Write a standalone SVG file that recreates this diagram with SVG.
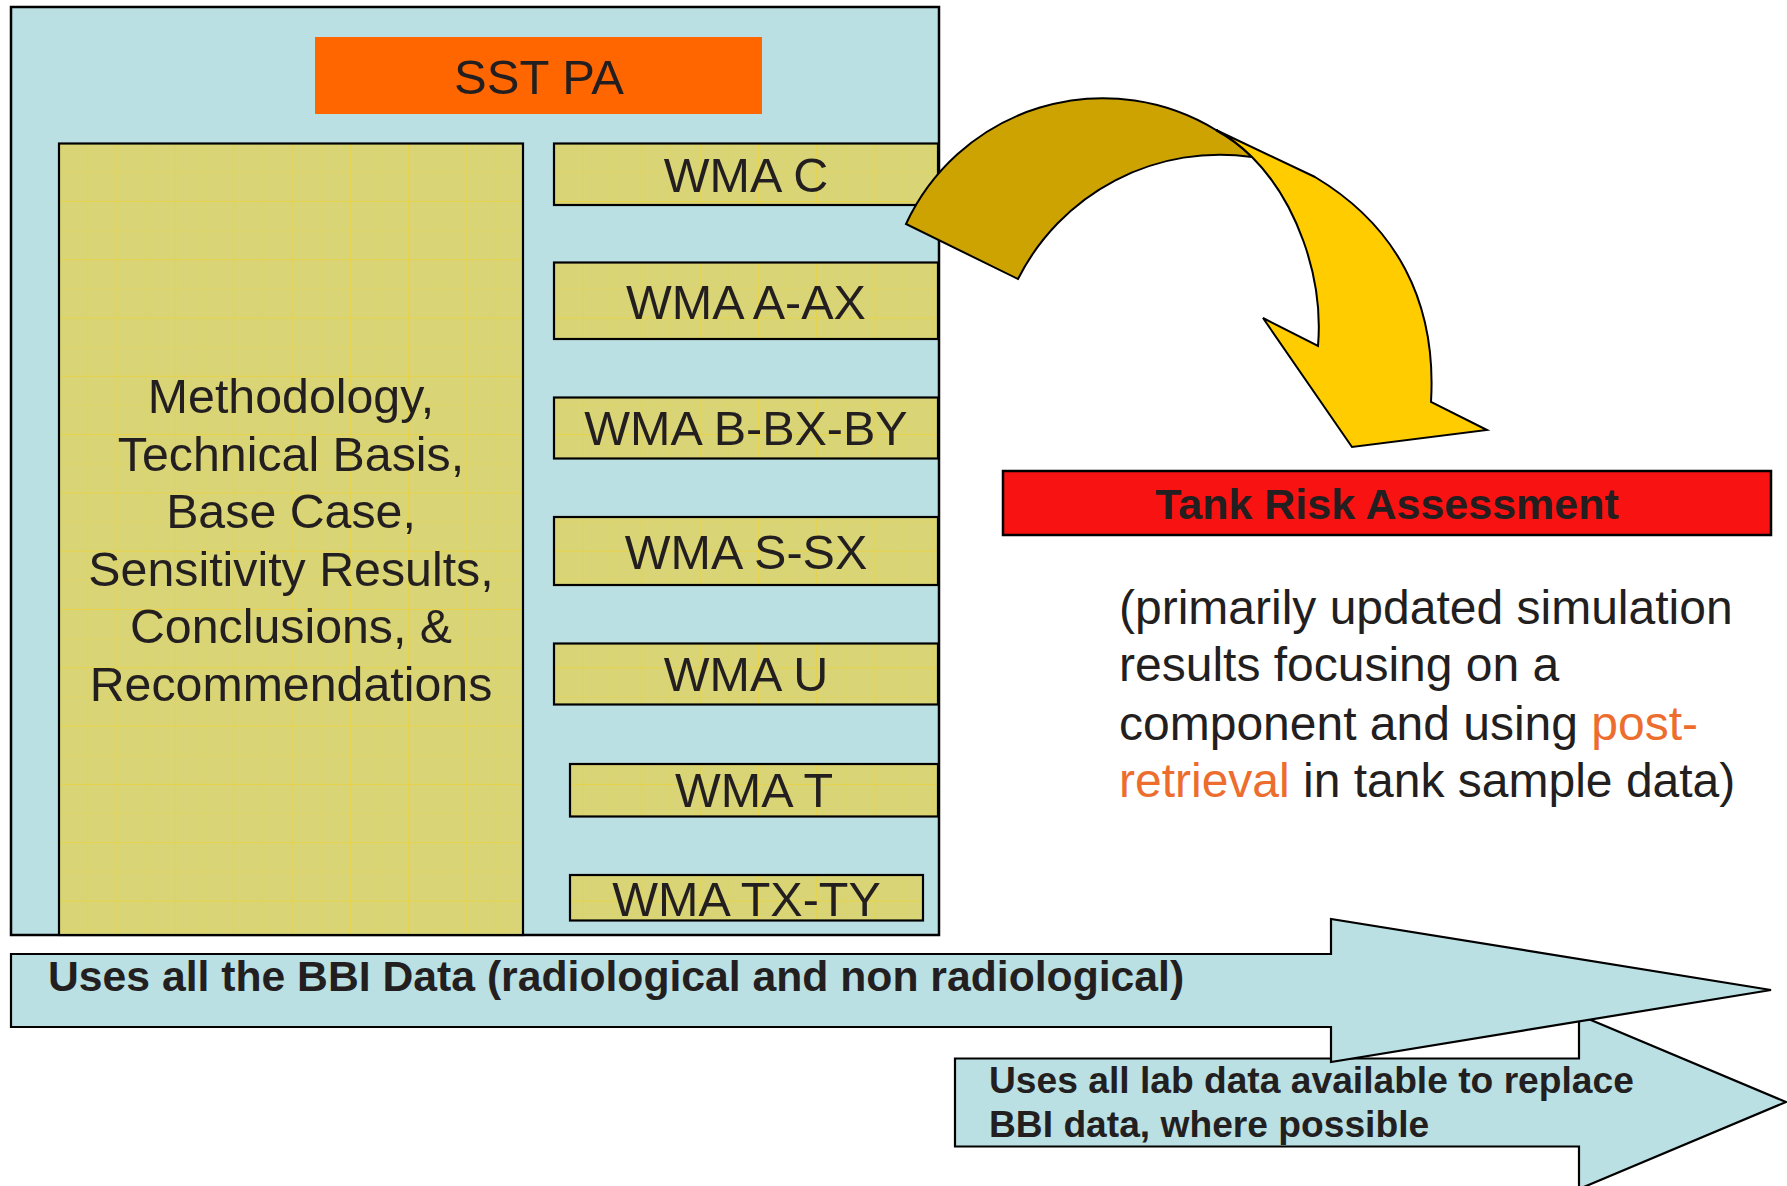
<svg xmlns="http://www.w3.org/2000/svg" width="1787" height="1186" viewBox="0 0 1787 1186">
<defs>
<pattern id="grid" patternUnits="userSpaceOnUse" x="0" y="26" width="58.3" height="58.3">
<rect width="58.3" height="58.3" fill="#D9D576"/>
<path d="M0.5,0 V58.3 M0,0.5 H58.3" stroke="#EDD236" stroke-width="1.2" opacity="0.7" fill="none"/>
<path d="M29.6,0 V58.3 M0,29.6 H58.3" stroke="#E6D44E" stroke-width="1" opacity="0.35" fill="none"/>
</pattern>
<style>
.blue{fill:#BBE0E3;stroke:#000;stroke-width:2.5}
.ybox{fill:url(#grid);stroke:#000;stroke-width:2.2}
.t{font-family:"Liberation Sans",Arial,sans-serif;fill:#231F20}
.wma{font-size:48.5px;text-anchor:middle}
.meth{font-size:48.3px;text-anchor:middle}
.para{font-size:48px}
.org{fill:#EC6D2D}
.b{font-weight:bold}
.arw{fill:#BBE0E3;stroke:#000;stroke-width:2.2;stroke-linejoin:miter}
</style>
</defs>
<rect width="1787" height="1186" fill="#fff"/>

<g id="sst-pa-container">
<rect class="blue" x="11" y="7" width="928" height="928"/>
</g>

<g id="sst-pa-title">
<rect x="315" y="37" width="447" height="77" fill="#FF6600"/>
<text class="t" x="539" y="94" font-size="49" text-anchor="middle">SST PA</text>
</g>

<g id="methodology">
<rect class="ybox" x="59" y="143.5" width="464" height="791.5"/>
<text class="t meth" x="291" y="413">Methodology,</text>
<text class="t meth" x="291" y="470.5">Technical Basis,</text>
<text class="t meth" x="291" y="528">Base Case,</text>
<text class="t meth" x="291" y="585.5">Sensitivity Results,</text>
<text class="t meth" x="291" y="643">Conclusions, &amp;</text>
<text class="t meth" x="291" y="700.5">Recommendations</text>
</g>

<g id="wma-c">
<rect class="ybox" x="554" y="143.5" width="384" height="61.5"/>
<text class="t wma" x="746" y="192">WMA C</text>
</g>
<g id="wma-a-ax">
<rect class="ybox" x="554" y="262.5" width="384" height="76.5"/>
<text class="t wma" x="746" y="318.5">WMA A-AX</text>
</g>
<g id="wma-b-bx-by">
<rect class="ybox" x="554" y="397.5" width="384" height="61"/>
<text class="t wma" x="746" y="445">WMA B-BX-BY</text>
</g>
<g id="wma-s-sx">
<rect class="ybox" x="554" y="517" width="384" height="68"/>
<text class="t wma" x="746" y="568.5">WMA S-SX</text>
</g>
<g id="wma-u">
<rect class="ybox" x="554" y="643.5" width="384" height="61"/>
<text class="t wma" x="746" y="691">WMA U</text>
</g>
<g id="wma-t">
<rect class="ybox" x="570" y="764" width="368" height="52.5"/>
<text class="t wma" x="754" y="806.5">WMA T</text>
</g>
<g id="wma-tx-ty">
<rect class="ybox" x="570" y="875" width="353" height="45.5"/>
<text class="t wma" x="746.5" y="915.5">WMA TX-TY</text>
</g>

<g id="tank-risk-assessment">
<rect x="1003" y="471" width="768" height="64" fill="#F81212" stroke="#000" stroke-width="2.5"/>
<text class="t b" x="1387" y="519" font-size="43" text-anchor="middle">Tank Risk Assessment</text>
</g>

<g id="description">
<text class="t para" x="1119" y="624">(primarily updated simulation</text>
<text class="t para" x="1119" y="681">results focusing on a</text>
<text class="t para" x="1119" y="739.5">component and using <tspan class="org">post-</tspan></text>
<text class="t para" x="1119" y="797"><tspan class="org">retrieval</tspan> in tank sample data)</text>
</g>

<g id="connectors">
<path d="M906,224 A217,217 0 0 1 1216,130 Q1236,141 1252,157 A226,226 0 0 0 1018,279 Z" fill="#CCA300" stroke="#000" stroke-width="2" stroke-linejoin="miter"/>
<path d="M1216,130 L1315,177 C1395,225 1437,300 1431,402 L1487,430 L1352,447 L1263,318 L1318,346 C1324,275 1295,200 1252,157 Q1236,141 1216,130 Z" fill="#FFCC00" stroke="#000" stroke-width="2" stroke-linejoin="miter"/>
</g>

<g id="lab-data-arrow">
<polygon class="arw" points="955,1058.5 1579,1058.5 1579,1015 1786,1102 1579,1189 1579,1146.5 955,1146.5"/>
<text class="t b" x="989" y="1093" font-size="37.2">Uses all lab data available to replace</text>
<text class="t b" x="989" y="1137" font-size="37.2">BBI data, where possible</text>
</g>

<g id="bbi-data-arrow">
<polygon class="arw" points="11,954 1331,954 1331,919 1771,990 1331,1062 1331,1027 11,1027"/>
<text class="t b" x="48" y="990.5" font-size="42.7">Uses all the BBI Data (radiological and non radiological)</text>
</g>
</svg>
